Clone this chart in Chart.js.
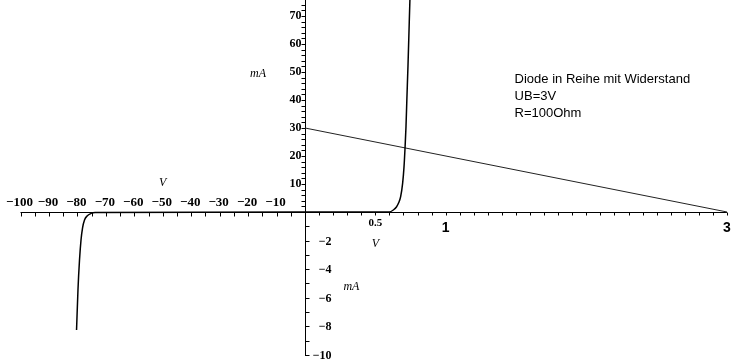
<!DOCTYPE html>
<html>
<head>
<meta charset="utf-8">
<script src="https://cdn.jsdelivr.net/npm/chart.js@4.4.1/dist/chart.umd.min.js"></script>
<style>
  html, body { margin: 0; padding: 0; background: #ffffff; }
  #wrap { position: relative; width: 734px; height: 360px; }
  canvas { display: block; }
</style>
</head>
<body>
<div id="wrap"><canvas id="c" width="734" height="360"></canvas></div>
<script>
// ---------- DATA ----------
// Forward branch of the diode (V, mA)
const forwardVolt = [0, 0.6, 0.63, 0.65, 0.665, 0.68, 0.694, 0.704, 0.711, 0.718, 0.724, 0.732, 0.739, 0.746, 0.75];
const forwardCurr = [0, 0, 0.8, 1.8, 3.2, 5.5, 10.2, 16.2, 22.7, 30.5, 40, 52, 64, 76, 82];
// Breakdown branch of the diode (V, mA)
const reverseVolt = [-80.3, -79.8, -79.26, -78.73, -78.2, -77.5, -76.6, -75.2, -73.8, 0];
const reverseCurr = [-8.25, -5.45, -3.36, -1.96, -1.12, -0.56, -0.28, -0.1, -0.03, 0];
// Load line of the resistor: UB = 3 V, R = 100 Ohm
const loadVolt = [0, 3];
const loadCurr = [30, 0];

// Tick values / labels
const negVoltLabels = [-100, -90, -80, -70, -60, -50, -40, -30, -20, -10];
const negVoltMinor = [-100, -95, -90, -85, -80, -75, -70, -65, -60, -55, -50, -45, -40, -35, -30, -25, -20, -15, -10, -5];
const posVoltMinor = [0.1,0.2,0.3,0.4,0.5,0.6,0.7,0.8,0.9,1.0,1.1,1.2,1.3,1.4,1.5,1.6,1.7,1.8,1.9,2.0,2.1,2.2,2.3,2.4,2.5,2.6,2.7,2.8,2.9,3.0];
const posVoltSmallLabels = [0.5];
const posVoltBigLabels = [1, 3];
const upperCurrLabels = [10, 20, 30, 40, 50, 60, 70];
const upperCurrMinor = [2,4,6,8,10,12,14,16,18,20,22,24,26,28,30,32,34,36,38,40,42,44,46,48,50,52,54,56,58,60,62,64,66,68,70,72,74];
const lowerCurrLabels = [-2, -4, -6, -8, -10];
const lowerCurrMinor = [-1,-2,-3,-4,-5,-6,-7,-8,-9,-10];
const annotationLines = ["Diode in Reihe mit Widerstand", "UB=3V", "R=100Ohm"];

const toPts = (xs, ys) => xs.map((x, i) => ({ x: x, y: ys[i] }));
const minus = v => (v < 0 ? "\u2212" + String(-v) : String(v));

// ---------- axes drawing plugin (uses chart scales) ----------
const axesPlugin = {
  id: 'axesPlugin',
  beforeDatasetsDraw(chart) {
    const ctx = chart.ctx;
    const xN = chart.scales.xN, xP = chart.scales.xP, yP = chart.scales.yP, yN = chart.scales.yN;
    const ox = Math.round(xP.getPixelForValue(0)) + 0.5;
    const oy = Math.round(yP.getPixelForValue(0)) + 0.5;
    ctx.save();
    ctx.strokeStyle = '#000';
    ctx.fillStyle = '#000';
    ctx.lineWidth = 1;
    // axis lines
    ctx.beginPath();
    ctx.moveTo(xN.getPixelForValue(-100), oy);
    ctx.lineTo(xP.getPixelForValue(3), oy);
    ctx.moveTo(ox, 0);
    ctx.lineTo(ox, yN.getPixelForValue(-10) + 1);
    ctx.stroke();

    // left x ticks (down)
    ctx.beginPath();
    negVoltMinor.forEach(v => {
      const px = Math.round(xN.getPixelForValue(v)) + 0.5;
      ctx.moveTo(px, oy); ctx.lineTo(px, oy + 4);
    });
    // right x ticks (down)
    posVoltMinor.forEach(v => {
      const px = Math.round(xP.getPixelForValue(v)) + 0.5;
      ctx.moveTo(px, oy); ctx.lineTo(px, oy + 3);
    });
    // upper y ticks (left)
    upperCurrMinor.forEach(v => {
      const py = Math.round(yP.getPixelForValue(v)) + 0.5;
      ctx.moveTo(ox, py); ctx.lineTo(ox - 4, py);
    });
    // lower y ticks (right)
    lowerCurrMinor.forEach(v => {
      const py = Math.round(yN.getPixelForValue(v)) + 0.5;
      ctx.moveTo(ox, py); ctx.lineTo(ox + 4, py);
    });
    ctx.stroke();

    // labels
    ctx.font = 'bold 13px "Liberation Serif", "DejaVu Serif", serif';
    ctx.textAlign = 'center';
    ctx.textBaseline = 'middle';
    negVoltLabels.forEach(v => {
      ctx.fillText(minus(v), xN.getPixelForValue(v) - 1, oy - 10);
    });
    ctx.font = 'bold 12px "Liberation Serif", "DejaVu Serif", serif';
    ctx.textAlign = 'right';
    upperCurrLabels.forEach(v => {
      ctx.fillText(minus(v), ox - 4, yP.getPixelForValue(v));
    });
    lowerCurrLabels.forEach(v => {
      ctx.fillText(minus(v), ox + 26, yN.getPixelForValue(v) + 1);
    });
    ctx.textAlign = 'center';
    ctx.font = 'bold 11px "Liberation Serif", "DejaVu Serif", serif';
    posVoltSmallLabels.forEach(v => {
      ctx.fillText(String(v), xP.getPixelForValue(v), oy + 11);
    });
    ctx.font = 'bold 14px "Liberation Sans", Arial, sans-serif';
    posVoltBigLabels.forEach(v => {
      ctx.fillText(String(v), xP.getPixelForValue(v), oy + 16);
    });

    // unit labels
    ctx.font = 'italic 12px "Liberation Serif", "DejaVu Serif", serif';
    ctx.fillText('V', xN.getPixelForValue(-50), yP.getPixelForValue(10.3));
    ctx.fillText('V', xP.getPixelForValue(0.5), yN.getPixelForValue(-2.2));
    ctx.fillText('mA', xN.getPixelForValue(-16.5), yP.getPixelForValue(49.5));
    ctx.fillText('mA', xP.getPixelForValue(0.33), yN.getPixelForValue(-5.2));

    // annotation
    ctx.textAlign = 'left';
    ctx.font = '13px "Liberation Sans", Arial, sans-serif';
    annotationLines.forEach((t, i) => {
      ctx.fillText(t, xP.getPixelForValue(1.49), yP.getPixelForValue(47.2) + i * 17);
    });
    ctx.restore();
  }
};

new Chart(document.getElementById('c'), {
  type: 'scatter',
  data: {
    datasets: [
      { label: 'Diode', data: toPts(forwardVolt, forwardCurr), xAxisID: 'xP', yAxisID: 'yP',
        showLine: true, borderColor: '#000', borderWidth: 1.5, pointRadius: 0, cubicInterpolationMode: 'monotone' },
      { label: 'Diode Durchbruch', data: toPts(reverseVolt, reverseCurr), xAxisID: 'xN', yAxisID: 'yN',
        showLine: true, borderColor: '#000', borderWidth: 1.5, pointRadius: 0, cubicInterpolationMode: 'monotone' },
      { label: 'Widerstand', data: toPts(loadVolt, loadCurr), xAxisID: 'xP', yAxisID: 'yP',
        showLine: true, borderColor: '#222', borderWidth: 1, pointRadius: 0 }
    ]
  },
  options: {
    responsive: false,
    animation: false,
    devicePixelRatio: 1,
    layout: { padding: { left: 20.5, right: 7, top: 0, bottom: 5 } },
    plugins: { legend: { display: false }, tooltip: { enabled: false } },
    scales: {
      xN: { type: 'linear', display: false, min: -100, max: 148.33 },
      xP: { type: 'linear', display: false, min: -2.0225, max: 3 },
      yP: { type: 'linear', display: false, min: -51.07, max: 75.71 },
      yN: { type: 'linear', display: false, min: -10, max: 14.825 }
    }
  },
  plugins: [axesPlugin]
});
</script>
</body>
</html>
